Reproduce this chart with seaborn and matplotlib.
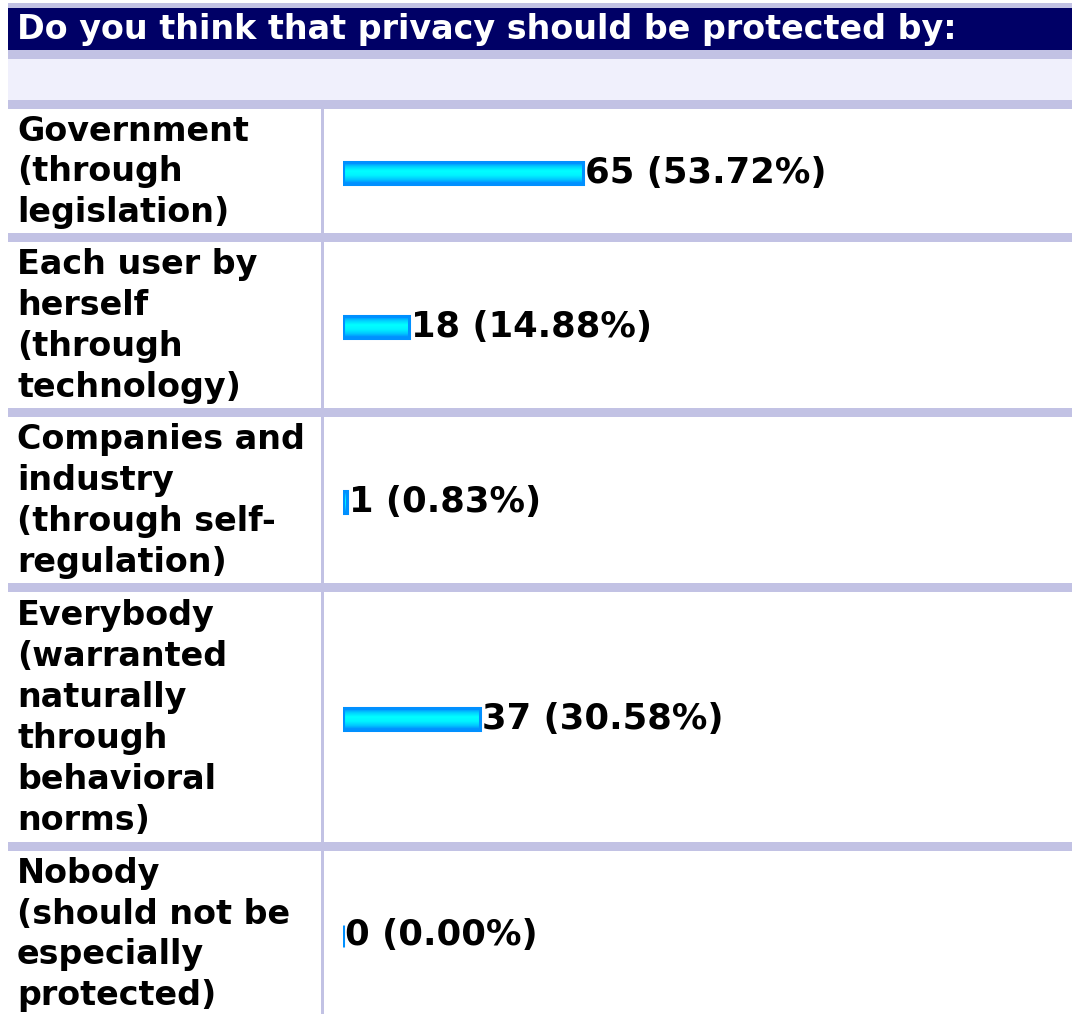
import numpy as np
import pandas as pd
import matplotlib
matplotlib.use("Agg")
import matplotlib.pyplot as plt
import seaborn as sns
from matplotlib.colors import LinearSegmentedColormap

# ---------------- data ----------------
title = "Do you think that privacy should be protected by:"
categories = [
    "Government\n(through\nlegislation)",
    "Each user by\nherself\n(through\ntechnology)",
    "Companies and\nindustry\n(through self-\nregulation)",
    "Everybody\n(warranted\nnaturally\nthrough\nbehavioral\nnorms)",
    "Nobody\n(should not be\nespecially\nprotected)",
]
counts = [65, 18, 1, 37, 0]
percents = [53.72, 14.88, 0.83, 30.58, 0.00]

# ---------------- style / layout (pixels) ----------------
W, H = 1072, 1014
NAVY = "#000066"
LAV = "#C2C2E4"
LIGHT = "#F0F0FC"
LEFT = 8
DIV_X0, DIV_X1 = 321, 324
BAR_X0 = 343
BAR_MAX_PX = 240
BAR_THICK = 22
FS_LABEL = 24
FS_TITLE = 24
FS_VALUE = 25.5
row_spans = [(109, 233), (242, 408), (417, 583), (592, 842), (851, 1016)]
seps = [(3, 8), (50, 59), (100, 109), (233, 242), (408, 417), (583, 592), (842, 851)]

sns.set_theme(style="white")
plt.rcParams["font.family"] = ["DejaVu Sans"]

fig = plt.figure(figsize=(W / 100, H / 100), dpi=100)
fig.patch.set_facecolor("white")
bg = fig.add_axes([0, 0, 1, 1])
bg.set_xlim(0, W)
bg.set_ylim(H, 0)
bg.axis("off")

# table frame
bg.axhspan(8, 50, xmin=LEFT / W, xmax=1, color=NAVY, lw=0)
bg.axhspan(59, 100, xmin=LEFT / W, xmax=1, color=LIGHT, lw=0)
for a, b in seps:
    bg.axhspan(a, b, xmin=LEFT / W, xmax=1, color=LAV, lw=0)
bg.axvspan(DIV_X0, DIV_X1, ymin=0, ymax=1 - 109 / H, color=LAV, lw=0)

bg.text(17, 30, title, color="white", fontsize=FS_TITLE, fontweight="bold",
        va="center", ha="left")

df = pd.DataFrame({"category": categories, "count": counts, "percent": percents})

cmap = LinearSegmentedColormap.from_list(
    "bar", ["#0080FF", "#00D0FF", "#00FFFF", "#00F4FF", "#00C8FF", "#0080FF"])
grad = np.linspace(0, 1, 64).reshape(-1, 1)

axw = W - BAR_X0
xmax = max(counts) * axw / BAR_MAX_PX

for i, row in df.iterrows():
    top, bot = row_spans[i]
    rh = bot - top
    # label in left column
    bg.text(17, (top + bot) / 2 + 1, row["category"], fontsize=FS_LABEL, fontweight="bold",
            va="center", ha="left", color="black", linespacing=1.3)
    ax = fig.add_axes([BAR_X0 / W, 1 - bot / H, axw / W, rh / H])
    sns.barplot(data=df.iloc[[i]], x="count", y="category", orient="h",
                width=BAR_THICK / rh, ax=ax, color="#00C0FF", errorbar=None)
    shift = 2 / rh
    ax.axis("off")
    ax.patch.set_alpha(0)
    for p in ax.patches:
        x0, y0 = p.get_x(), p.get_y()
        pw, ph = p.get_width(), p.get_height()
        p.set_facecolor("none")
        p.set_edgecolor("#0090FF")
        p.set_linewidth(2.2)
        if pw > 0:
            ax.imshow(grad, cmap=cmap, aspect="auto", zorder=0.5,
                      extent=[x0, x0 + pw, y0 + ph, y0], interpolation="bilinear")
        ax.set_xlim(0, xmax)
        ax.set_ylim(0.5 - shift, -0.5 - shift)
        ax.text(x0 + pw + xmax * 2 / axw, y0 + ph / 2,
                f"{row['count']} ({row['percent']:.2f}%)",
                fontsize=FS_VALUE, fontweight="bold", va="center", ha="left", color="black")

fig.savefig("out.png", dpi=100, facecolor="white")
